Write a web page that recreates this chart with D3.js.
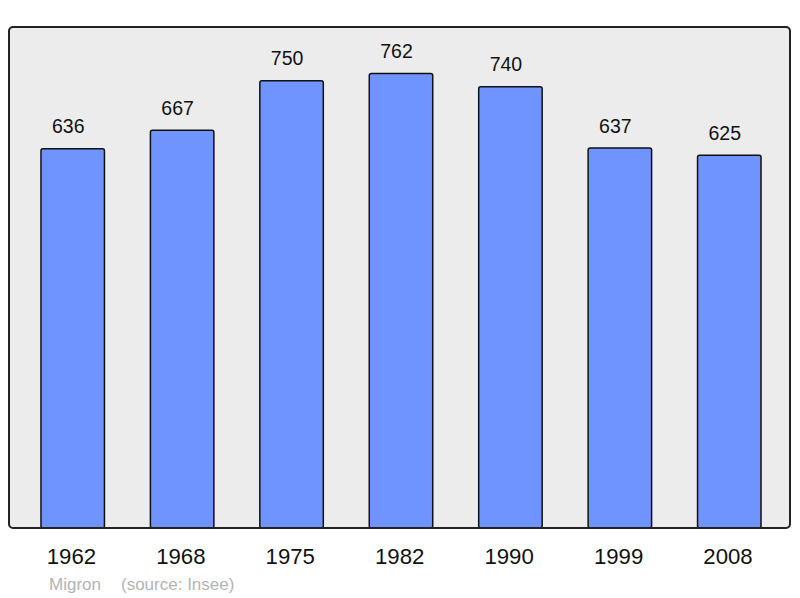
<!DOCTYPE html>
<html>
<head>
<meta charset="utf-8">
<script src="https://cdn.jsdelivr.net/npm/d3@7"></script>
<style>
  body { margin: 0; background: #fff; }
  text { font-family: "Liberation Sans", Arial, sans-serif; }
</style>
</head>
<body>
<div id="chart"></div>
<script>
// population figures
var years = ['1962', '1968', '1975', '1982', '1990', '1999', '2008'];
var population = [636, 667, 750, 762, 740, 637, 625];
var placeName = 'Migron';
var sourceText = '(source: Insee)';

var width = 800, height = 598;
var frame = { left: 9, top: 27, right: 790, bottom: 528 };

var svg = d3.select('#chart')
	.append('svg')
	.attr('width', width)
	.attr('height', height);

// plot background
svg.append('rect')
	.attr('x', frame.left)
	.attr('y', frame.top)
	.attr('width', frame.right - frame.left)
	.attr('height', frame.bottom - frame.top)
	.attr('rx', 4)
	.attr('fill', '#ececec');

var x = d3.scaleBand()
	.domain(years)
	.range([18, 784])
	.paddingInner(0.42)
	.paddingOuter(0.21);

var y = d3.scaleLinear()
	.domain([0, 840])
	.range([frame.bottom, frame.top]);

//Bars
svg.append('g')
	.selectAll('rect')
	.data(population)
	.enter()
	.append('rect')
	.attr('x', function(d, i) { return x(years[i]); })
	.attr('y', function(d) { return y(d); })
	.attr('width', x.bandwidth())
	.attr('height', function(d) { return y(0) - y(d); })
	.attr('rx', 2)
	.attr('fill', '#7094ff')
	.attr('stroke', '#111')
	.attr('stroke-width', 1.5);

//Value labels above bars (sit a little left of the bar centre)
svg.append('g')
	.selectAll('text')
	.data(population)
	.enter()
	.append('text')
	.attr('x', function(d, i) { return x(years[i]) + x.bandwidth() / 2 - 4.5; })
	.attr('y', function(d) { return y(d) - 15.5; })
	.attr('text-anchor', 'middle')
	.attr('font-size', 19.5)
	.attr('fill', '#111')
	.text(function(d) { return d; });

// frame on top of the bars
svg.append('rect')
	.attr('x', frame.left)
	.attr('y', frame.top)
	.attr('width', frame.right - frame.left)
	.attr('height', frame.bottom - frame.top)
	.attr('rx', 4)
	.attr('fill', 'none')
	.attr('stroke', '#222')
	.attr('stroke-width', 2);

//Year labels
svg.append('g')
	.selectAll('text')
	.data(years)
	.enter()
	.append('text')
	.attr('x', function(d) { return x(d) + x.bandwidth() / 2 - 1.3; })
	.attr('y', 564)
	.attr('text-anchor', 'middle')
	.attr('font-size', 22.2)
	.attr('fill', '#111')
	.text(function(d) { return d; });

//Source line
svg.append('text')
	.attr('x', 49)
	.attr('y', 590)
	.attr('font-size', 17)
	.attr('fill', '#b4b4b4')
	.text(placeName);

svg.append('text')
	.attr('x', 121)
	.attr('y', 590)
	.attr('font-size', 17)
	.attr('fill', '#b4b4b4')
	.text(sourceText);
</script>
</body>
</html>
